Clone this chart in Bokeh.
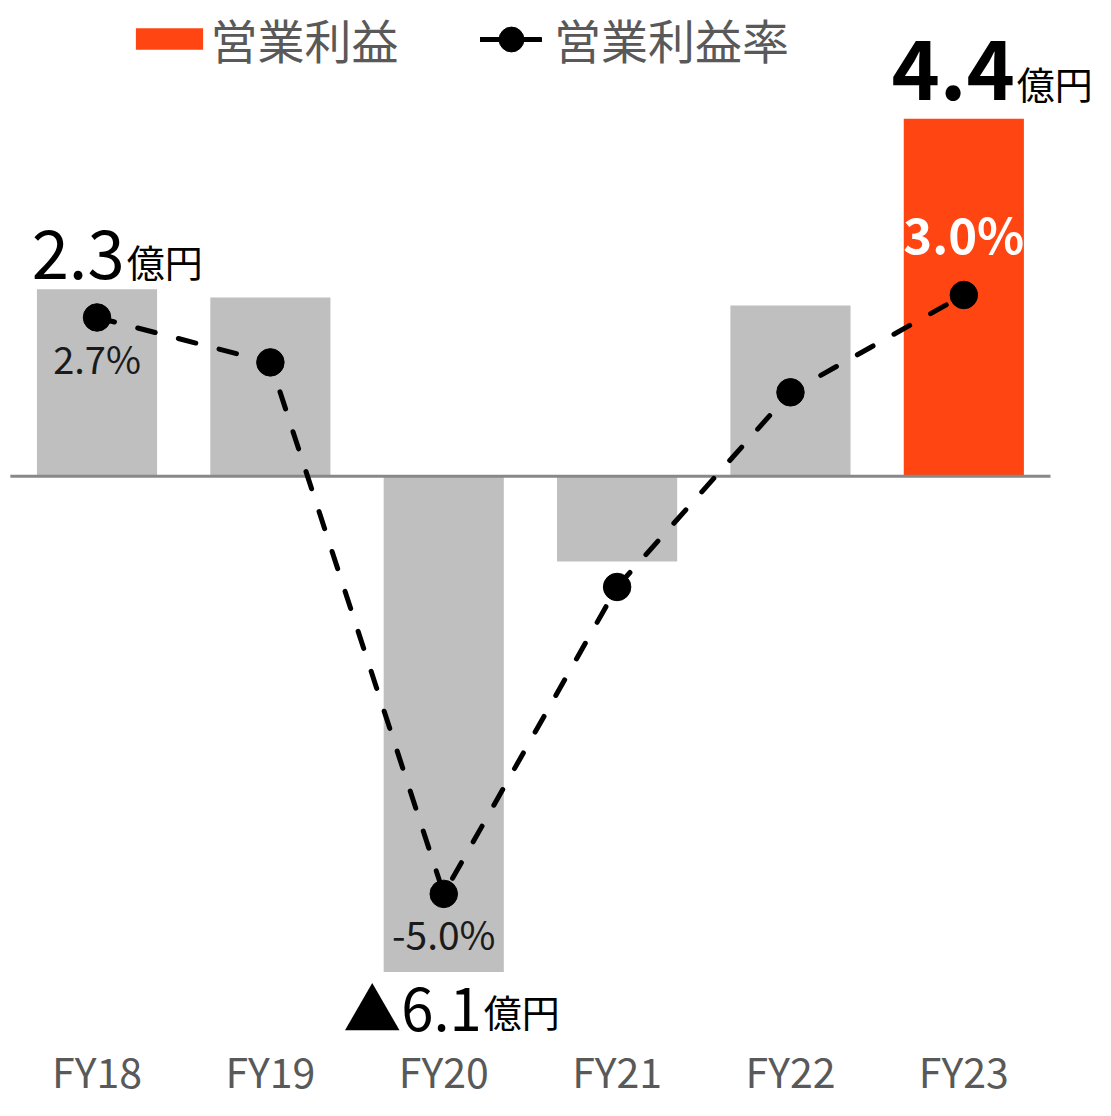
from bokeh.plotting import figure
from bokeh.models import Range1d, ColumnDataSource, Legend, LegendItem
from bokeh.core.properties import value
from bokeh.embed import file_html
from bokeh.resources import INLINE

# ---- data ----
categories = ["FY18", "FY19", "FY20", "FY21", "FY22", "FY23"]
profit = [2.3, 2.2, -6.1, -1.05, 2.1, 4.4]          # 営業利益 (億円)
profit_rate = [2.7, 2.1, -5.0, -0.9, 1.7, 3.0]      # 営業利益率 (%)
profit_labels = ["2.3", "", "▲6.1", "", "", "4.4"]
rate_labels = ["2.7%", "", "-5.0%", "", "", "3.0%"]
unit_label = "億円"
bar_colors = ["#bfbfbf", "#bfbfbf", "#bfbfbf", "#bfbfbf", "#bfbfbf", "#ff4511"]

FONT = "Noto Sans CJK JP"
W, H = 1095, 1100
S = 0.985
PX_X = 176 * S        # px per category
X0 = 98 * S           # px of first category centre
PX_Y = 82.5 * S       # px per 億円
ZERO_Y = 483 * S      # px of zero (bars)
PX_R = 76 * S         # px per %
ZERO_R = 527 * S      # px of zero (rate)

idx = list(range(len(categories)))

p = figure(width=W, height=H, output_backend="svg", toolbar_location=None,
           x_range=Range1d(-X0 / PX_X, (W - X0) / PX_X),
           y_range=Range1d(-(H - ZERO_Y) / PX_Y, ZERO_Y / PX_Y),
           x_axis_type=None, y_axis_type=None, min_border=0,
           outline_line_color=None)
p.extra_y_ranges = {"rate": Range1d(-(H - ZERO_R) / PX_R, ZERO_R / PX_R)}

src = ColumnDataSource(dict(x=idx, profit=profit, rate=profit_rate, color=bar_colors))

bars = p.vbar(x="x", top="profit", width=0.693, fill_color="color", line_color=None, source=src)

# zero line
p.segment(x0=[idx[0] - 0.5], y0=[0], x1=[idx[-1] + 0.5], y1=[0],
          line_color="#888888", line_width=3)

# rate line
line_r = p.line(x="x", y="rate", y_range_name="rate", source=src, line_color="black",
                line_width=5, line_dash="18 24", line_cap="round")
circ_r = p.scatter(x="x", y="rate", y_range_name="rate", source=src, size=27.5,
                   fill_color="black", line_color="black")

# category labels
p.text(x=idx, y=[p.y_range.start] * len(idx), text=categories, text_align="center",
       text_baseline="bottom", y_offset=-1, text_font=value(FONT),
       text_font_size="41px", text_color="#595959")

# amount labels
def amount(i, size, style, dx, dy, udy):
    p.text(x=[idx[i]], y=[profit[i]], text=[profit_labels[i]], text_align="right",
           text_baseline="alphabetic", x_offset=dx, y_offset=dy, text_font=value(FONT),
           text_font_size=size, text_font_style=style, text_color="black")
    p.text(x=[idx[i]], y=[profit[i]], text=[unit_label], text_align="left",
           text_baseline="alphabetic", x_offset=dx + 2, y_offset=udy, text_font=value(FONT),
           text_font_size="38px", text_color="black")

amount(0, "67px", "normal", 27.6, -35, -29)
amount(5, "82px", "bold", 51, -49, -36)
amount(2, "58px", "normal", 38, 34, 39)

# rate labels
def rate(i, size, style, color, dy):
    p.text(x=[idx[i]], y=[profit_rate[i]], y_range_name="rate", text=[rate_labels[i]],
           text_align="center", text_baseline="alphabetic", y_offset=dy,
           text_font=value(FONT), text_font_size=size, text_font_style=style,
           text_color=color)

rate(0, "38px", "normal", "#1a1a1a", 40)
rate(2, "39px", "normal", "#1a1a1a", 39)
rate(5, "49px", "bold", "white", -63)

# legends
common = dict(orientation="horizontal", label_text_font=FONT, label_text_font_size="47px",
              label_text_color="#595959", padding=0, margin=0,
              border_line_alpha=0, background_fill_alpha=0)
leg1 = Legend(items=[LegendItem(label="営業利益", renderers=[bars], index=5)],
              location=(126.6, H - 73), glyph_width=84, glyph_height=27, label_standoff=0,
              **common)
leg2 = Legend(items=[LegendItem(label="営業利益率", renderers=[line_r, circ_r])],
              location=(480, H - 73), glyph_width=62, glyph_height=64, label_standoff=12,
              **common)
p.add_layout(leg1)
p.add_layout(leg2)

open("out.html", "w").write(file_html(p, INLINE))
